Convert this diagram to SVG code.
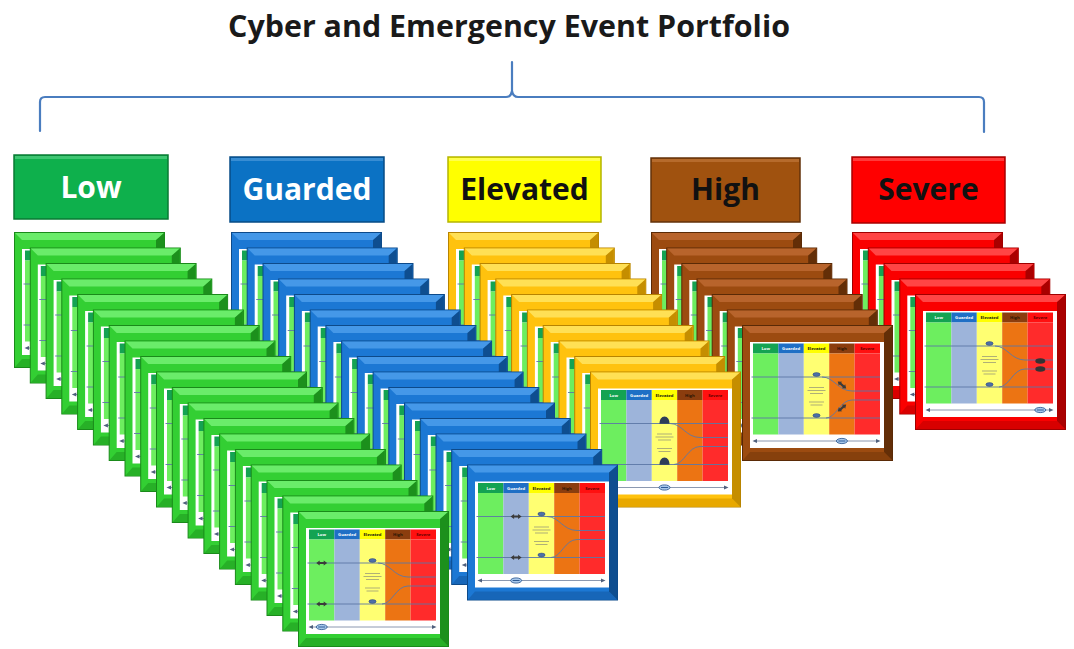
<svg xmlns="http://www.w3.org/2000/svg" width="1074" height="649" viewBox="0 0 1074 649">
<style>
text{font-family:"Open Sans","Liberation Sans",sans-serif;font-weight:700}
.title{font-size:31px;fill:#1a1a1a;text-anchor:middle}
.hd{font-size:30px;text-anchor:middle}
.brace{fill:none;stroke:#4A7DBF;stroke-width:2.2;stroke-linecap:round;stroke-linejoin:round}
.low-b{fill:#33CF33;stroke:#1A8A1A;stroke-width:1}
.low-l{fill:#6AEC6A}
.low-s{fill:#27B027}
.low-d{fill:#1C901C}
.grd-b{fill:#1C78D4;stroke:#0D4A8A;stroke-width:1}
.grd-l{fill:#4598E8}
.grd-s{fill:#1766B8}
.grd-d{fill:#0E4E90}
.elv-b{fill:#FFC20E;stroke:#B88400;stroke-width:1}
.elv-l{fill:#FFE055}
.elv-s{fill:#E8A800}
.elv-d{fill:#C58E00}
.hi-b{fill:#9C4B10;stroke:#5A2A06;stroke-width:1}
.hi-l{fill:#B8642C}
.hi-s{fill:#86400C}
.hi-d{fill:#632E07}
.sv-b{fill:#FA0000;stroke:#A00000;stroke-width:1}
.sv-l{fill:#FF4545}
.sv-s{fill:#D80000}
.sv-d{fill:#AA0000}
.ln{fill:none;stroke:#5B77A6;stroke-width:0.9}
.tx{font-size:4.2px;text-anchor:middle}
.hl{opacity:0.45}
</style>
<defs>
<g id="panel">
<rect x="8" y="17" width="134" height="106" fill="#ffffff"/>
<rect x="11" y="18.5" width="25.4" height="10" fill="#14A352"/>
<rect x="36.4" y="18.5" width="25.4" height="10" fill="#1F6FC5"/>
<rect x="61.8" y="18.5" width="25.4" height="10" fill="#FFFF00"/>
<rect x="87.2" y="18.5" width="25.4" height="10" fill="#8B3D0E"/>
<rect x="112.6" y="18.5" width="25.4" height="10" fill="#FF1010"/>
<rect x="11" y="28.5" width="25.4" height="81" fill="#6DEE5F"/>
<rect x="36.4" y="28.5" width="25.4" height="81" fill="#9DB4DA"/>
<rect x="61.8" y="28.5" width="25.4" height="81" fill="#FFFF72"/>
<rect x="87.2" y="28.5" width="25.4" height="81" fill="#EC7413"/>
<rect x="112.6" y="28.5" width="25.4" height="81" fill="#FF2B2B"/>
<path class="ln" d="M9.5,52H138M9.5,93H138M80,52C92,52 96,66 110,66H138M84,93C94,93 98,75 110,75H138"/>
<path d="M67,62.5H82M65.5,65.5H83.5M68,68.5H81M67,77H82M68.5,80H80.5" stroke="#8E8E78" stroke-width="0.7"/>
<ellipse cx="74.5" cy="49.5" rx="3.6" ry="1.9" fill="#4D6FA8" stroke="#2A4472" stroke-width="0.5"/>
<ellipse cx="74.5" cy="90.5" rx="3.6" ry="1.9" fill="#4D6FA8" stroke="#2A4472" stroke-width="0.5"/>
<path d="M14,116H135" stroke="#6F7F9C" stroke-width="0.8"/>
<path d="M10.5,116L15,114V118ZM138.5,116L134,114V118Z" fill="#4F5F7C"/>
</g>
<g id="card-low"><rect class="low-b" x="0.5" y="0.5" width="150" height="135"/><polygon class="low-l" points="1,1 150,1 143,8 8,8"/><polygon class="low-s" points="1,135 150,135 142,127 8,127"/><polygon class="low-d" points="150,1 150,135 142,127 142,8"/><use href="#panel"/></g>
<g id="card-grd"><rect class="grd-b" x="0.5" y="0.5" width="150" height="135"/><polygon class="grd-l" points="1,1 150,1 143,8 8,8"/><polygon class="grd-s" points="1,135 150,135 142,127 8,127"/><polygon class="grd-d" points="150,1 150,135 142,127 142,8"/><use href="#panel"/></g>
<g id="card-elv"><rect class="elv-b" x="0.5" y="0.5" width="150" height="135"/><polygon class="elv-l" points="1,1 150,1 143,8 8,8"/><polygon class="elv-s" points="1,135 150,135 142,127 8,127"/><polygon class="elv-d" points="150,1 150,135 142,127 142,8"/><use href="#panel"/></g>
<g id="card-hi"><rect class="hi-b" x="0.5" y="0.5" width="150" height="135"/><polygon class="hi-l" points="1,1 150,1 143,8 8,8"/><polygon class="hi-s" points="1,135 150,135 142,127 8,127"/><polygon class="hi-d" points="150,1 150,135 142,127 142,8"/><use href="#panel"/></g>
<g id="card-sv"><rect class="sv-b" x="0.5" y="0.5" width="150" height="135"/><polygon class="sv-l" points="1,1 150,1 143,8 8,8"/><polygon class="sv-s" points="1,135 150,135 142,127 8,127"/><polygon class="sv-d" points="150,1 150,135 142,127 142,8"/><use href="#panel"/></g>
<g id="hdrtxt" class="tx">
<text x="23.7" y="25.2" fill="#ffffff">Low</text>
<text x="49.1" y="25.2" fill="#ffffff">Guarded</text>
<text x="74.5" y="25.2" fill="#111111">Elevated</text>
<text x="99.9" y="25.2" fill="#2A1505">High</text>
<text x="125.3" y="25.2" fill="#5A0000">Severe</text>
</g>
<path id="dbl" d="M-5.5,0L-2,-2.6V-1.1H2V-2.6L5.5,0L2,2.6V1.1H-2V2.6Z" fill="#3B3B3B"/>
<g id="badge"><ellipse rx="5.5" ry="2.6" fill="#A8C8EC" stroke="#1F4E8C" stroke-width="0.8"/><path d="M-3.5,0H3.5" stroke="#1F4E8C" stroke-width="0.9"/></g>
<path id="dome" d="M-5,3.2C-5,-1 -3,-4 0,-4C3,-4 5,-1 5,3.2Z" fill="#2E3D58"/>
</defs>

<g id="title"><text class="title" x="509" y="37" textLength="562" lengthAdjust="spacingAndGlyphs">Cyber and Emergency Event Portfolio</text></g>

<g id="connectors">
<path class="brace" d="M40,131V102Q40,97 45,97H506Q511,97 512,91V62M512,91Q513,97 518,97H979Q984,97 984,102V132"/>
</g>

<g id="hdr-low"><rect x="14" y="155" width="154" height="64" fill="#0EB04C" stroke="#097A33" stroke-width="1.5"/><rect class="hl" x="15" y="156" width="152" height="3" fill="#7BE3A2"/><text class="hd" x="91" y="198" fill="#ffffff">Low</text></g>
<g id="hdr-guarded"><rect x="230" y="157" width="154" height="65" fill="#0B72C4" stroke="#074C86" stroke-width="1.5"/><rect class="hl" x="231" y="158" width="152" height="3" fill="#6FB0E6"/><text class="hd" x="307" y="200" fill="#ffffff">Guarded</text></g>
<g id="hdr-elevated"><rect x="448" y="157" width="153" height="65" fill="#FFFF00" stroke="#B5B500" stroke-width="1.5"/><rect class="hl" x="449" y="158" width="151" height="3" fill="#FFFFAA"/><text class="hd" x="524.5" y="200" fill="#111111">Elevated</text></g>
<g id="hdr-high"><rect x="651" y="158" width="149" height="64" fill="#A0520F" stroke="#63320A" stroke-width="1.5"/><rect class="hl" x="652" y="159" width="147" height="3" fill="#D08A50"/><text class="hd" x="725.5" y="200" fill="#111111">High</text></g>
<g id="hdr-severe"><rect x="852" y="157" width="153" height="66" fill="#FF0000" stroke="#A80000" stroke-width="1.5"/><rect class="hl" x="853" y="158" width="151" height="3" fill="#FF8080"/><text class="hd" x="928.5" y="200" fill="#111111">Severe</text></g>

<g id="stack-severe">
<use href="#card-sv" x="852" y="232"/>
<use href="#card-sv" x="867.8" y="247.5"/>
<use href="#card-sv" x="883.5" y="263"/>
<use href="#card-sv" x="899.3" y="278.5"/>
<g transform="translate(915,294)"><use href="#card-sv"/><use href="#hdrtxt"/>
<ellipse cx="125.3" cy="67" rx="5" ry="2.8" fill="#333"/><ellipse cx="125.3" cy="75" rx="5" ry="2.8" fill="#333"/>
<use href="#badge" x="125.3" y="116"/></g>
</g>

<g id="stack-high">
<use href="#card-hi" x="651" y="232"/>
<use href="#card-hi" x="666.2" y="247.5"/>
<use href="#card-hi" x="681.3" y="263"/>
<use href="#card-hi" x="696.5" y="278.5"/>
<use href="#card-hi" x="711.7" y="294"/>
<use href="#card-hi" x="726.8" y="309.5"/>
<g transform="translate(742,325)"><use href="#card-hi"/><use href="#hdrtxt"/>
<use href="#dbl" transform="translate(100,60) rotate(40)"/><use href="#dbl" transform="translate(100,83) rotate(-40)"/>
<use href="#badge" x="99.9" y="116"/></g>
</g>

<g id="stack-elevated">
<use href="#card-elv" x="448" y="232"/>
<use href="#card-elv" x="463.8" y="247.5"/>
<use href="#card-elv" x="479.6" y="263"/>
<use href="#card-elv" x="495.3" y="278.5"/>
<use href="#card-elv" x="511.1" y="294"/>
<use href="#card-elv" x="526.9" y="309.5"/>
<use href="#card-elv" x="542.7" y="325"/>
<use href="#card-elv" x="558.5" y="340.5"/>
<use href="#card-elv" x="574.2" y="356"/>
<g transform="translate(590,371.5)"><use href="#card-elv"/><use href="#hdrtxt"/>
<use href="#dome" x="74.5" y="49"/><use href="#dome" x="74.5" y="90"/>
<use href="#badge" x="74.5" y="116"/></g>
</g>

<g id="stack-guarded">
<use href="#card-grd" x="231" y="232"/>
<use href="#card-grd" x="246.7" y="247.5"/>
<use href="#card-grd" x="262.5" y="263"/>
<use href="#card-grd" x="278.2" y="278.5"/>
<use href="#card-grd" x="293.9" y="294"/>
<use href="#card-grd" x="309.7" y="309.5"/>
<use href="#card-grd" x="325.4" y="325"/>
<use href="#card-grd" x="341.1" y="340.5"/>
<use href="#card-grd" x="356.8" y="356"/>
<use href="#card-grd" x="372.6" y="371.5"/>
<use href="#card-grd" x="388.3" y="387"/>
<use href="#card-grd" x="404" y="402.5"/>
<use href="#card-grd" x="419.8" y="418"/>
<use href="#card-grd" x="435.5" y="433.5"/>
<use href="#card-grd" x="451.2" y="449"/>
<g transform="translate(467,464.5)"><use href="#card-grd"/><use href="#hdrtxt"/>
<use href="#dbl" x="49.1" y="52"/><use href="#dbl" x="49.1" y="93"/>
<use href="#badge" x="49.1" y="116"/></g>
</g>

<g id="stack-low">
<use href="#card-low" x="14" y="232"/>
<use href="#card-low" x="29.8" y="247.5"/>
<use href="#card-low" x="45.6" y="263"/>
<use href="#card-low" x="61.3" y="278.5"/>
<use href="#card-low" x="77.1" y="294"/>
<use href="#card-low" x="92.9" y="309.5"/>
<use href="#card-low" x="108.7" y="325"/>
<use href="#card-low" x="124.5" y="340.5"/>
<use href="#card-low" x="140.2" y="356"/>
<use href="#card-low" x="156" y="371.5"/>
<use href="#card-low" x="171.8" y="387"/>
<use href="#card-low" x="187.6" y="402.5"/>
<use href="#card-low" x="203.4" y="418"/>
<use href="#card-low" x="219.1" y="433.5"/>
<use href="#card-low" x="234.9" y="449"/>
<use href="#card-low" x="250.7" y="464.5"/>
<use href="#card-low" x="266.5" y="480"/>
<use href="#card-low" x="282.3" y="495.5"/>
<g transform="translate(298,511)"><use href="#card-low"/><use href="#hdrtxt"/>
<use href="#dbl" x="23.7" y="52"/><use href="#dbl" x="23.7" y="93"/>
<use href="#badge" x="23.7" y="116"/></g>
</g>
</svg>
